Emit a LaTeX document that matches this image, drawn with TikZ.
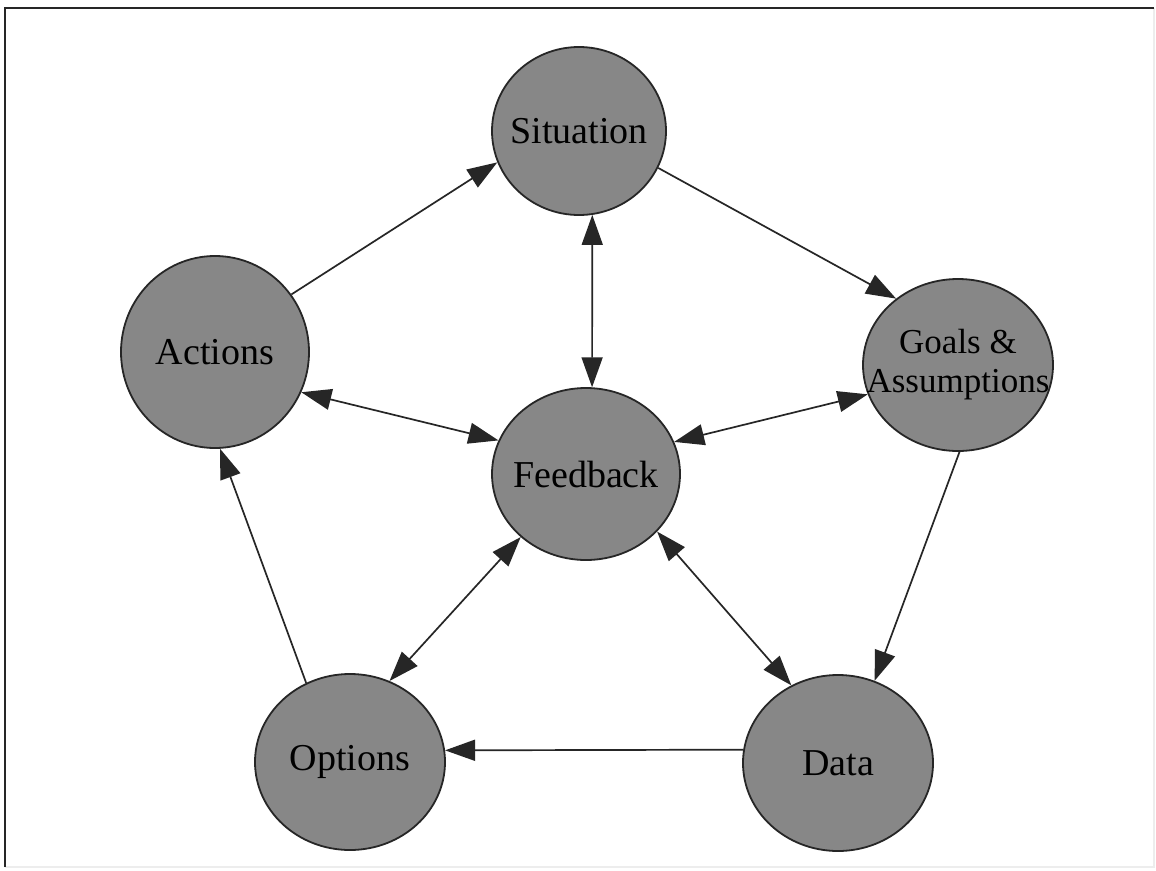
\documentclass[tikz,border=0pt]{standalone}
\usepackage{fontspec}
\setmainfont{Liberation Serif}
\usetikzlibrary{shapes.geometric,arrows.meta}
\newcommand{\zwtext}[1]{\makebox[0pt]{#1}}
\tikzset{
  blob/.style={ellipse, draw=black!85, line width=1.8pt, fill=black!47, inner sep=0pt,
    font=\fontsize{38}{39}\selectfont, align=center, text=black},
  link/.style={line width=1.7pt, draw=black!85},
  tip/.style={-{Triangle[length=30pt,width=21pt]}},
  tips/.style={{Triangle[length=30pt,width=21pt]}-{Triangle[length=30pt,width=21pt]}},
}
\begin{document}
\begin{tikzpicture}[x=1pt,y=-1pt]
\useasboundingbox (0,0) rectangle (1156,870);
\fill[white] (0,0) rectangle (1156,870);
% frame
\coordinate (f1) at (5,8);
\coordinate (f2) at (1154,8);
\coordinate (f3) at (1154,867);
\coordinate (f4) at (5,867);
\draw[line width=1.2pt, black!7] (f2) -- (f3) -- (f4);
\draw[line width=2.6pt, black!85] (f4) -- (f1) -- (f2);
% nodes
\node[blob, minimum width=174pt, minimum height=168pt] (sit) at (579,131) {\zwtext{Situation}};
\node[blob, minimum width=188pt, minimum height=192pt] (act) at (215,352) {\zwtext{Actions}};
\node[blob, minimum width=190pt, minimum height=172pt, font=\fontsize{35}{39}\selectfont] (goal) at (958,365)
  {\zwtext{Goals \&}\\\zwtext{Assumptions}};
\node[blob, minimum width=188pt, minimum height=172pt] (fb) at (586,474) {\zwtext{Feedback}};
\node[blob, minimum width=190pt, minimum height=176pt] (opt) at (350,762) {\zwtext{Options}};
\node[blob, minimum width=190pt, minimum height=176pt] (data) at (838,763) {\zwtext{Data}};
% connectors
\draw[link, tip] (act.37) -- (sit.201);
\draw[link, tip] (sit.335) -- (goal.133);
\draw[link, tips] (sit.279.5) -- (fb.86);
\draw[link, tips] (act.335.7) -- (fb.159.6);
\draw[link, tips] (goal.198) -- (fb.20.4);
\draw[link, tip] (goal.271) -- (data.66.8);
\draw[link, tips] (fb.224.5) -- (opt.64);
\draw[link, tips] (fb.321.4) -- (data.121.7);
\draw[link, tip] (data.172.2) -- (opt.7.8);
\draw[link, tip] (opt.119.3) -- (act.273.6);
\end{tikzpicture}
\end{document}
